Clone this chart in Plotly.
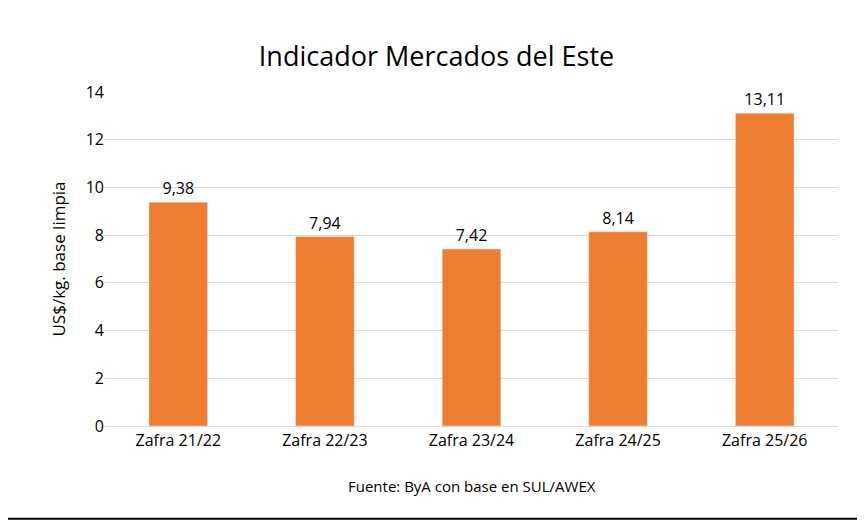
import plotly.graph_objects as go

# Data
categories = ["Zafra 21/22", "Zafra 22/23", "Zafra 23/24", "Zafra 24/25", "Zafra 25/26"]
values = [9.38, 7.94, 7.42, 8.14, 13.11]
labels = ["9,38", "7,94", "7,42", "8,14", "13,11"]
y_ticks = [0, 2, 4, 6, 8, 10, 12, 14]

# Create bar chart
fig = go.Figure()

fig.add_trace(go.Bar(
    x=categories,
    y=values,
    text=labels,
    textposition='outside',
    textfont=dict(size=16, color='#000000'),
    marker_color='#ED7D31',
    cliponaxis=False
))

# Update layout
fig.update_layout(
    width=857, height=519,
    title=dict(text='Indicador Mercados del Este', x=0.5, xanchor='center', y=0.925,
               font=dict(size=27, color='#000000')),
    font=dict(family='Open Sans, Carlito, sans-serif', color='#000000'),
    plot_bgcolor='white', paper_bgcolor='white',
    bargap=0.6,
    showlegend=False,
    margin=dict(l=97, r=27, t=84, b=101),
    yaxis_title=dict(text='US$/kg. base limpia', font=dict(size=17)),
)

# Update axes
fig.update_yaxes(range=[0, 14], tickvals=y_ticks, gridcolor='#D9D9D9',
                 tickfont=dict(size=16), zeroline=False, showline=False)
fig.update_xaxes(tickfont=dict(size=16), showline=True, linecolor='#D9D9D9')

# Source note and outer frame
fig.add_annotation(text='Fuente: ByA con base en SUL/AWEX', xref='paper', yref='paper',
                   x=0.5, y=-0.215, showarrow=False, font=dict(size=15))
fig.add_shape(type='rect', xref='paper', yref='paper', x0=-0.139, x1=1.030,
              y0=-0.278, y1=1.266, line=dict(color='black', width=2))

# Save the chart
fig.write_html('out.html')
